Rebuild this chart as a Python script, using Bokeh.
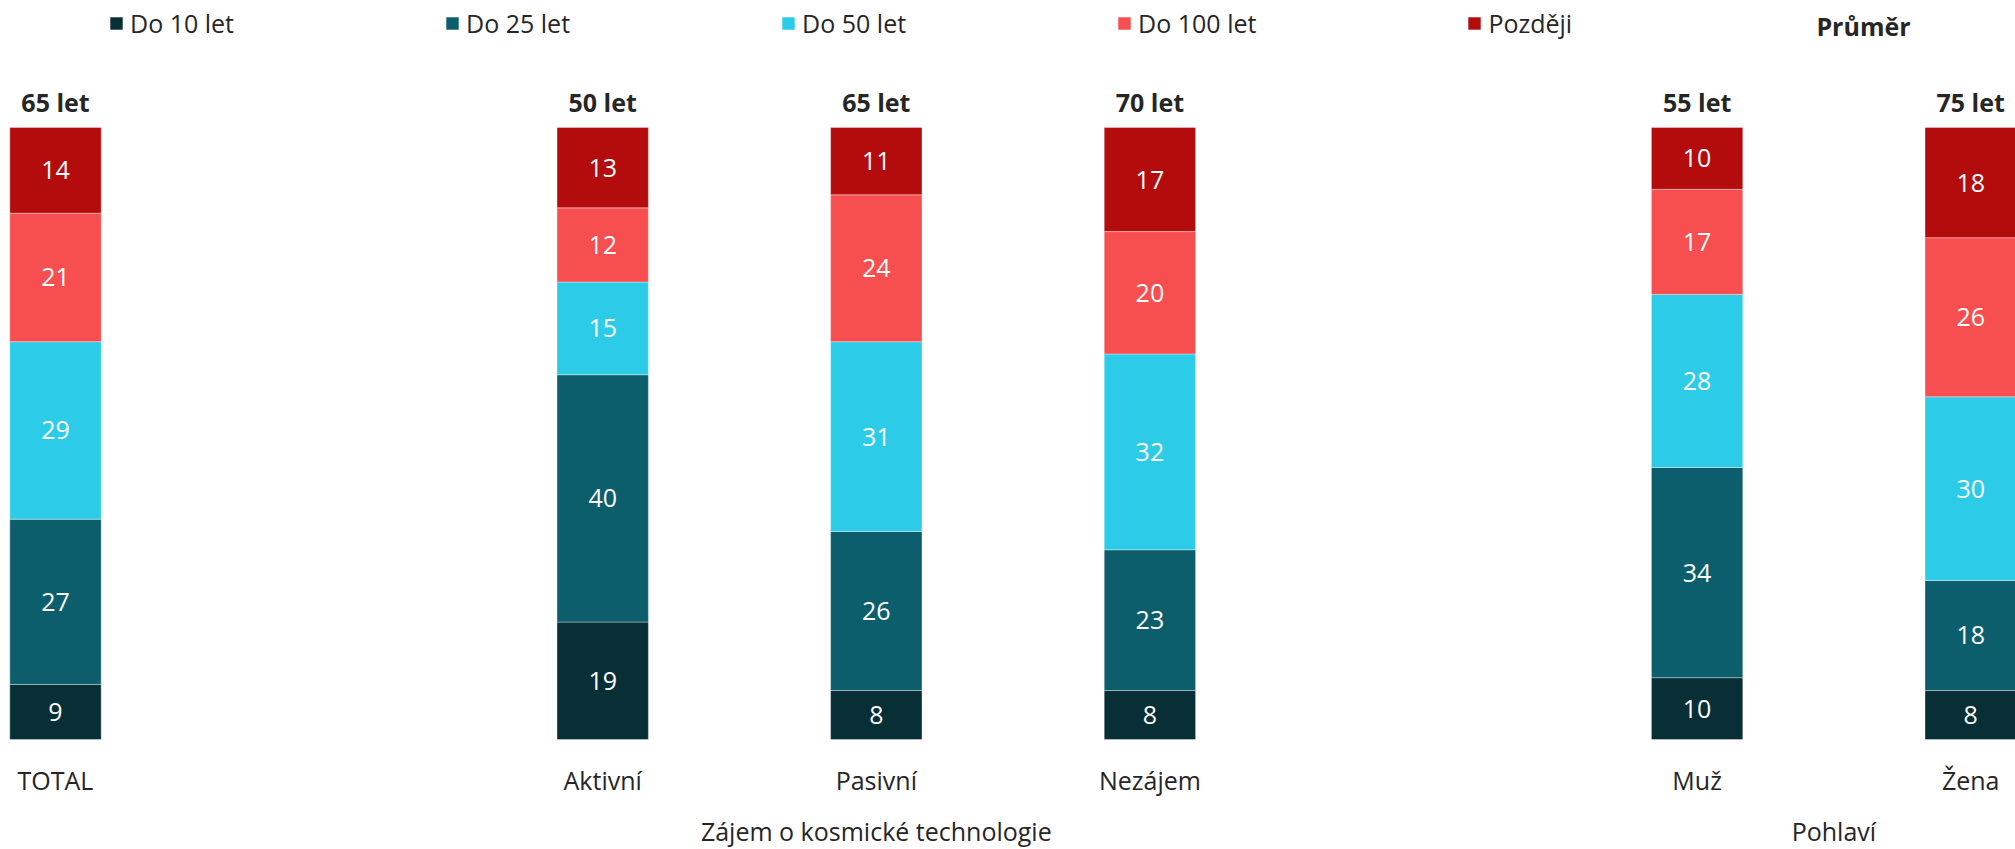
from bokeh.plotting import figure
from bokeh.models import ColumnDataSource, Range1d, Legend, LegendItem
from bokeh.core.properties import value
from bokeh.embed import file_html
from bokeh.resources import INLINE

# ---------------- data ----------------
categories = ["TOTAL", "Aktivní", "Pasivní", "Nezájem", "Muž", "Žena"]
category_group = ["", "Zájem o kosmické technologie", "Zájem o kosmické technologie",
                  "Zájem o kosmické technologie", "Pohlaví", "Pohlaví"]
series_names = ["Do 10 let", "Do 25 let", "Do 50 let", "Do 100 let", "Později"]
do_10 = [9, 19, 8, 8, 10, 8]
do_25 = [27, 40, 26, 23, 34, 18]
do_50 = [29, 15, 31, 32, 28, 30]
do_100 = [21, 12, 24, 20, 17, 26]
pozdeji = [14, 13, 11, 17, 10, 18]
average_labels = ["65 let", "50 let", "65 let", "70 let", "55 let", "75 let"]
average_title = "Průměr"

series_values = [do_10, do_25, do_50, do_100, pozdeji]
colors = ["#082e36", "#0c5e6c", "#2ccce8", "#f74f4f", "#b40c0c"]

# ---------------- layout helpers ----------------
W, H = 2015, 849
SLOT_PX = 273.6
X0_PAGE = 55.0          # x of first slot centre
BASE_PAGE = 739.0       # y of value 0
PX_UNIT = 6.12          # px per percent


def xd(px):
    return (px - X0_PAGE) / SLOT_PX


def yd(py):
    return (BASE_PAGE - py) / PX_UNIT


# slot positions: one empty slot between groups
pos = []
slot = 0
prev = None
for g in category_group:
    if prev is not None and g != prev:
        slot += 1
    pos.append(slot)
    slot += 1
    prev = g

totals = [sum(col) for col in zip(*series_values)]

p = figure(width=W, height=H, output_backend="svg", toolbar_location=None,
           x_range=Range1d(xd(0), xd(W)),
           y_range=Range1d(yd(H), yd(0)),
           x_axis_location=None, y_axis_location=None, min_border=0)
p.grid.visible = False
p.outline_line_color = None
p.background_fill_color = "white"
p.border_fill_color = "white"

FONT = value("Open Sans")
bottoms = [0.0] * len(categories)
legend_items = []
lab_x, lab_y, lab_t = [], [], []
for name, vals, col in zip(series_names, series_values, colors):
    shares = [v / t * 100 for v, t in zip(vals, totals)]
    tops = [b + s for b, s in zip(bottoms, shares)]
    src = ColumnDataSource(dict(x=pos, bottom=bottoms, top=tops))
    r = p.vbar(x="x", bottom="bottom", top="top", width=0.334, source=src,
               fill_color=col, line_color="white", line_alpha=0.35, line_width=1)
    legend_items.append(LegendItem(label=name, renderers=[r]))
    for x, b, t, v in zip(pos, bottoms, tops, vals):
        lab_x.append(x)
        lab_y.append((b + t) / 2)
        lab_t.append(str(v))
    bottoms = tops

# segment value labels
p.text(x=lab_x, y=lab_y, text=lab_t, text_align="center", text_baseline="middle",
       text_color="white", text_font=FONT, text_font_size="25px")

# average labels above bars
p.text(x=pos, y=[yd(101.2)] * len(pos), text=average_labels, text_align="center",
       text_baseline="middle", text_color="#262626", text_font=FONT,
       text_font_size="25px", text_font_style="bold")

# category labels
p.text(x=pos, y=[yd(779.7)] * len(pos), text=categories, text_align="center",
       text_baseline="middle", text_color="#262626", text_font=FONT,
       text_font_size="25px")

# group labels
gnames, gx = [], []
for g in dict.fromkeys(category_group):
    if not g:
        continue
    xs = [x for x, cg in zip(pos, category_group) if cg == g]
    gnames.append(g)
    gx.append(sum(xs) / len(xs))
p.text(x=gx, y=[yd(830.5)] * len(gx), text=gnames, text_align="center",
       text_baseline="middle", text_color="#262626", text_font=FONT,
       text_font_size="25px")

# "Průměr" title in legend row
p.text(x=[xd(1863)], y=[yd(25.0)], text=[average_title], text_align="center",
       text_baseline="middle", text_color="#262626", text_font=FONT,
       text_font_size="25px", text_font_style="bold")

legend = Legend(items=legend_items, orientation="horizontal", location=(108, 809),
                glyph_width=16, glyph_height=16, label_standoff=6, spacing=210,
                padding=0, margin=0, border_line_alpha=0, background_fill_alpha=0,
                label_text_font="Open Sans", label_text_font_size="25px",
                label_text_color="#262626", label_height=16)
p.add_layout(legend)

open("out.html", "w").write(file_html(p, INLINE))
